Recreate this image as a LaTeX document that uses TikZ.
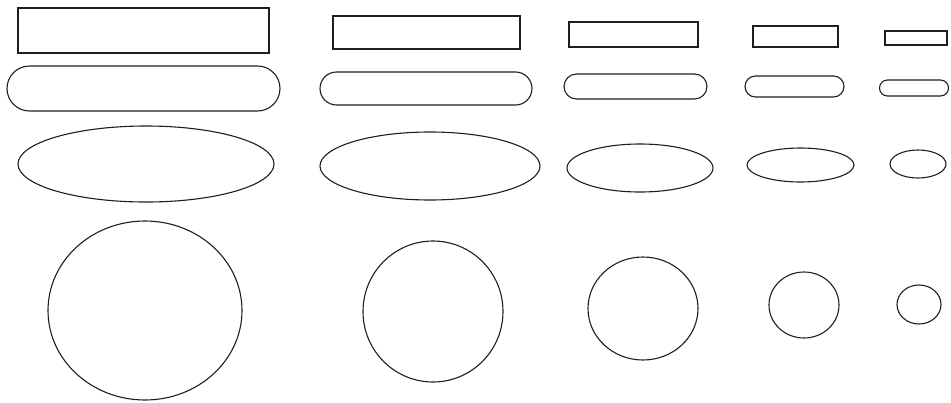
\documentclass[tikz,border=0pt]{standalone}
\usetikzlibrary{shapes.geometric, shapes.misc}
\definecolor{linecolor}{RGB}{30, 30, 30}
\tikzset{
    % Base style
    baseshape/.style={
        draw=linecolor, line width=1.1pt, inner sep=0pt, outer sep=0pt
    },
    % Shape types
    boxshape/.style={baseshape, rectangle},
    pillshape/.style={baseshape, rounded rectangle},
    ovalshape/.style={baseshape, ellipse},
}

\begin{document}
\begin{tikzpicture}[x=1pt, y=-1pt]
\useasboundingbox (0,0) rectangle (951,402);

% ===== Row 1: rectangles =====
\node (rect1) [boxshape, minimum width=251pt, minimum height=45pt] at (143.5, 30.5) {};
\node (rect2) [boxshape, minimum width=187pt, minimum height=33pt] at (426.5, 32.5) {};
\node (rect3) [boxshape, minimum width=129pt, minimum height=25pt] at (633.5, 34.5) {};
\node (rect4) [boxshape, minimum width=85pt, minimum height=21pt] at (795.5, 36.5) {};
\node (rect5) [boxshape, minimum width=62pt, minimum height=14pt] at (916, 38) {};

% ===== Row 2: rounded rectangles =====
\node (pill1) [pillshape, minimum width=273pt, minimum height=45pt] at (143.5, 88.5) {};
\node (pill2) [pillshape, minimum width=212pt, minimum height=33pt] at (426, 88.5) {};
\node (pill3) [pillshape, minimum width=143pt, minimum height=25pt] at (635.5, 86.5) {};
\node (pill4) [pillshape, minimum width=99pt, minimum height=21pt] at (794.5, 86.5) {};
\node (pill5) [pillshape, minimum width=69pt, minimum height=16pt] at (914, 88) {};

% ===== Row 3: ellipses =====
\node (oval1) [ovalshape, minimum width=256pt, minimum height=76pt] at (146, 164) {};
\node (oval2) [ovalshape, minimum width=220pt, minimum height=68pt] at (430, 166) {};
\node (oval3) [ovalshape, minimum width=146pt, minimum height=48pt] at (640, 168) {};
\node (oval4) [ovalshape, minimum width=107pt, minimum height=34pt] at (800.5, 165) {};
\node (oval5) [ovalshape, minimum width=56pt, minimum height=28pt] at (918, 164) {};

% ===== Row 4: circles =====
\node (disc1) [ovalshape, minimum width=194pt, minimum height=179pt] at (145, 310.5) {};
\node (disc2) [ovalshape, minimum width=140pt, minimum height=141pt] at (433, 311.5) {};
\node (disc3) [ovalshape, minimum width=110pt, minimum height=103pt] at (643, 308.5) {};
\node (disc4) [ovalshape, minimum width=70pt, minimum height=66pt] at (804, 305) {};
\node (disc5) [ovalshape, minimum width=44pt, minimum height=39pt] at (919, 304.5) {};

\end{tikzpicture}
\end{document}
